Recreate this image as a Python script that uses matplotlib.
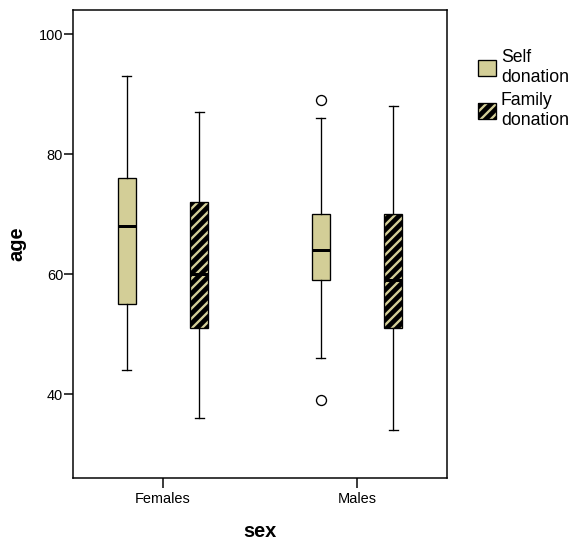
import matplotlib
matplotlib.use("Agg")
import matplotlib.pyplot as plt
from matplotlib.patches import Patch, PathPatch

plt.rcParams['font.family'] = ['Liberation Sans', 'DejaVu Sans']
plt.rcParams['hatch.linewidth'] = 1.4

groups = ['Females', 'Males']
series = ['Self\ndonation', 'Family\ndonation']

# box summaries
self_lo = [44, 46]
self_q1 = [55, 59]
self_med = [68, 64]
self_q3 = [76, 70]
self_hi = [93, 86]
self_out = [[], [89, 39]]

fam_lo = [36, 34]
fam_q1 = [51, 51]
fam_med = [60, 59]
fam_q3 = [72, 70]
fam_hi = [87, 88]
fam_out = [[], []]

tan = '#d3ce97'
hatch = '////'


def make_stats(lo, q1, med, q3, hi, out):
    stats = []
    for i in range(len(lo)):
        stats.append({'whislo': lo[i], 'q1': q1[i], 'med': med[i],
                      'q3': q3[i], 'whishi': hi[i], 'fliers': out[i]})
    return stats


fig = plt.figure(figsize=(574 / 120, 545 / 120), dpi=120)
ax = fig.add_axes([73 / 574, 67 / 545, 374 / 574, 468 / 545])

x = list(range(len(groups)))
offset = 0.186
width = 0.093

line = dict(color='black', linewidth=0.8)
common = dict(
    widths=width,
    capwidths=0.046,
    patch_artist=True,
    manage_ticks=False,
    whiskerprops=line,
    capprops=line,
    medianprops=dict(color='black', linewidth=1.8),
    flierprops=dict(marker='o', markersize=6, markerfacecolor='white',
                    markeredgecolor='black', markeredgewidth=0.8),
)

ax.bxp(make_stats(self_lo, self_q1, self_med, self_q3, self_hi, self_out),
       positions=[i - offset for i in x],
       boxprops=dict(facecolor=tan, edgecolor='black', linewidth=0.8),
       **common)

fam = ax.bxp(make_stats(fam_lo, fam_q1, fam_med, fam_q3, fam_hi, fam_out),
             positions=[i + offset for i in x],
             boxprops=dict(facecolor='black', edgecolor=tan, linewidth=0, hatch=hatch),
             **common)

# black outline on top of the hatched boxes
for box in fam['boxes']:
    ax.add_patch(PathPatch(box.get_path(), facecolor='none', edgecolor='black',
                           linewidth=0.8, zorder=2.05))

ax.set_xlim(-0.464, 1.464)
ax.set_ylim(26.05, 104)
ax.set_xticks(x)
ax.set_xticklabels(groups)
ax.set_yticks([40, 60, 80, 100])

ax.tick_params(direction='out', length=5.7, width=0.9, labelsize=8.7, colors='black')
ax.tick_params(axis='y', pad=0.3)
ax.tick_params(axis='x', pad=2.5)
for s in ax.spines.values():
    s.set_linewidth(0.9)

ax.set_xlabel('sex', fontsize=12, fontweight='bold', va='baseline')
ax.xaxis.set_label_coords(0.5, -0.126)
ax.set_ylabel('age', fontsize=12, fontweight='bold', va='baseline')
ax.yaxis.set_label_coords(-0.135, 0.5)

# Legend
handles = [
    Patch(facecolor=tan, edgecolor='black', linewidth=0.8),
    (Patch(facecolor='black', edgecolor=tan, linewidth=0, hatch=hatch),
     Patch(facecolor='none', edgecolor='black', linewidth=0.8)),
]
fig.legend(handles, series, loc='upper left', bbox_to_anchor=(478 / 574, 1 - 49 / 545),
           frameon=False, fontsize=10.6, handlelength=1.02, handleheight=1.02,
           handletextpad=0.28, labelspacing=0.38, borderpad=0, borderaxespad=0)

fig.savefig('out.png', dpi=120)
